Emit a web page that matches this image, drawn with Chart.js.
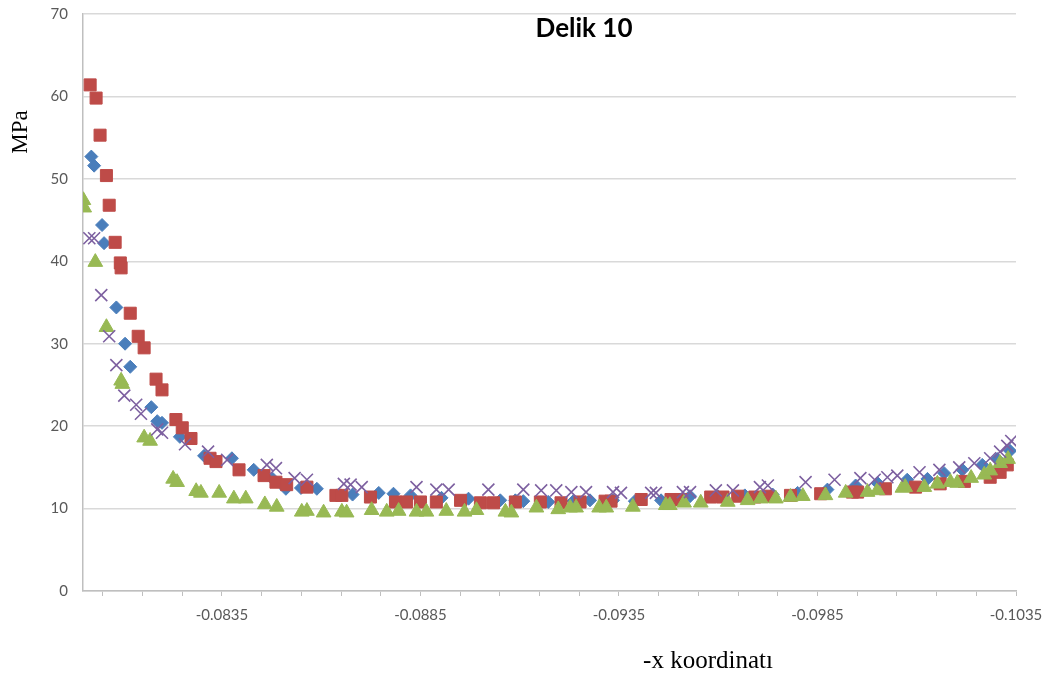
<!DOCTYPE html>
<html>
<head>
<meta charset="utf-8">
<script src="https://cdn.jsdelivr.net/npm/chart.js@4.4.1/dist/chart.umd.min.js"></script>
<style>
  html, body { margin: 0; padding: 0; background: #fff; }
  #chart { display: block; }
</style>
</head>
<body>
<canvas id="chart" width="1051" height="675"></canvas>
<script>
// x coordinate (m) and stress (MPa) per series
const blueX = [-0.08021, -0.08028, -0.08048, -0.08053, -0.08084, -0.08106, -0.08119, -0.08172, -0.08187, -0.08199,
  -0.08244, -0.08305, -0.08375, -0.0843, -0.08478, -0.08511, -0.08549, -0.08589, -0.08679, -0.08745,
  -0.08782, -0.08825, -0.08903, -0.08971, -0.09051, -0.09089, -0.09109, -0.09172, -0.09235, -0.09277,
  -0.09335, -0.0939, -0.09456, -0.09529, -0.09599, -0.09667, -0.09737, -0.098, -0.09875, -0.09946,
  -0.10001, -0.10076, -0.10127, -0.10169, -0.10215, -0.10265, -0.10303, -0.10335];
const blueY = [52.7, 51.6, 44.4, 42.2, 34.4, 30.0, 27.2, 22.3, 20.6, 20.4,
  18.7, 16.4, 16.1, 14.7, 13.6, 12.4, 12.5, 12.4, 11.7, 11.9,
  11.8, 11.6, 11.3, 11.2, 11.0, 11.0, 10.9, 10.8, 10.9, 11.0,
  11.0, 10.9, 11.0, 11.5, 11.5, 11.6, 11.7, 11.9, 12.3, 12.8,
  13.1, 13.5, 13.6, 14.3, 14.7, 15.3, 16.0, 17.0];

const redX = [-0.08018, -0.08033, -0.08043, -0.08059, -0.08066, -0.08081, -0.08094, -0.08096, -0.08119, -0.08139,
  -0.08154, -0.08184, -0.08199, -0.08234, -0.0825, -0.08272, -0.0832, -0.08335, -0.08393, -0.08456,
  -0.08486, -0.08513, -0.08564, -0.08637, -0.08652, -0.08724, -0.08787, -0.08815, -0.0885, -0.0889,
  -0.08951, -0.09001, -0.09034, -0.09089, -0.09152, -0.09204, -0.09252, -0.09315, -0.0933, -0.09406,
  -0.09481, -0.09506, -0.09581, -0.09612, -0.09649, -0.09692, -0.09725, -0.09782, -0.09858, -0.09938,
  -0.09951, -0.10021, -0.10097, -0.10159, -0.1022, -0.10285, -0.1031, -0.10328];
const redY = [61.4, 59.8, 55.3, 50.4, 46.8, 42.3, 39.8, 39.2, 33.7, 30.9,
  29.5, 25.7, 24.4, 20.8, 19.8, 18.5, 16.1, 15.7, 14.7, 14.0,
  13.2, 12.9, 12.6, 11.6, 11.6, 11.4, 10.8, 10.8, 10.8, 10.8,
  11.0, 10.7, 10.7, 10.8, 10.8, 10.7, 10.8, 10.9, 10.9, 11.1,
  11.1, 11.1, 11.4, 11.4, 11.5, 11.4, 11.5, 11.6, 11.8, 12.0,
  12.0, 12.4, 12.6, 13.0, 13.3, 13.8, 14.4, 15.3];

const greenX = [-0.08001, -0.08003, -0.08031, -0.08059, -0.08096, -0.08099, -0.08154, -0.08169, -0.08227, -0.08237,
  -0.08285, -0.08297, -0.08343, -0.0838, -0.0841, -0.08458, -0.08488, -0.08551, -0.08564, -0.08606,
  -0.08652, -0.08664, -0.08727, -0.08765, -0.08795, -0.0884, -0.08865, -0.08915, -0.08961, -0.08991,
  -0.09064, -0.09079, -0.09142, -0.09197, -0.09227, -0.09242, -0.093, -0.09318, -0.09385, -0.09468,
  -0.09478, -0.09514, -0.09556, -0.09624, -0.09674, -0.09707, -0.09745, -0.09782, -0.09813, -0.0987,
  -0.09921, -0.09976, -0.10001, -0.10064, -0.10071, -0.10119, -0.10152, -0.10185, -0.10202, -0.10237,
  -0.1027, -0.10285, -0.1031, -0.1033];
const greenY = [47.4, 46.5, 39.9, 32.0, 25.5, 25.1, 18.6, 18.2, 13.6, 13.2,
  12.1, 11.9, 11.9, 11.2, 11.2, 10.5, 10.2, 9.6, 9.7, 9.5,
  9.6, 9.5, 9.8, 9.6, 9.7, 9.6, 9.6, 9.7, 9.6, 9.8,
  9.6, 9.5, 10.1, 9.9, 10.1, 10.1, 10.1, 10.1, 10.2, 10.4,
  10.4, 10.7, 10.7, 10.8, 11.0, 11.2, 11.2, 11.4, 11.5, 11.6,
  11.9, 12.0, 12.2, 12.5, 12.6, 12.6, 13.0, 13.2, 13.1, 13.7,
  14.1, 14.6, 15.5, 16.0];

const purpleX = [-0.08016, -0.08028, -0.08046, -0.08066, -0.08084, -0.08104, -0.08134, -0.08146, -0.08187, -0.08199,
  -0.08257, -0.08315, -0.08363, -0.08463, -0.08486, -0.08533, -0.08564, -0.08657, -0.08674, -0.08702,
  -0.0884, -0.0889, -0.08921, -0.09021, -0.09109, -0.09154, -0.09192, -0.0923, -0.09267, -0.09335,
  -0.09355, -0.09431, -0.09443, -0.09511, -0.09529, -0.09594, -0.09637, -0.09705, -0.09725, -0.0982,
  -0.09893, -0.09958, -0.09994, -0.10026, -0.10051, -0.10107, -0.10157, -0.10207, -0.10245, -0.10285,
  -0.1031, -0.10328, -0.10338];
const purpleY = [42.8, 42.8, 35.9, 30.9, 27.4, 23.7, 22.6, 21.5, 19.6, 19.2,
  17.8, 16.9, 15.9, 15.3, 14.9, 13.7, 13.5, 13.0, 12.9, 12.6,
  12.6, 12.3, 12.3, 12.3, 12.3, 12.2, 12.2, 12.0, 12.0, 12.0,
  11.9, 11.9, 11.9, 12.0, 12.0, 12.2, 12.2, 12.6, 12.8, 13.2,
  13.5, 13.7, 13.5, 13.8, 14.0, 14.4, 14.7, 15.0, 15.5, 16.1,
  16.9, 17.6, 18.2];

const xMin = -0.1035;
const xMax = -0.0800;
const xMinorStep = 0.001;
const xTickLabels = ['-0.0835', '-0.0885', '-0.0935', '-0.0985', '-0.1035'];
const yMax = 70;
const yStep = 10;

function toPoints(xs, ys) {
  return xs.map((x, i) => ({ x: x, y: ys[i] }));
}

const tickFont = { family: 'Lato', size: 15 };
const tickColor = '#595959';

// title and axis captions, placed by hand like the spreadsheet layout
const captions = {
  id: 'captions',
  afterDraw(chart) {
    const ctx = chart.ctx;
    ctx.save();
    ctx.fillStyle = '#000';
    ctx.textAlign = 'center';
    ctx.textBaseline = 'alphabetic';
    ctx.font = 'bold 26px Lato';
    ctx.fillText('Delik 10', 584, 37);
    ctx.font = '25px "Liberation Serif"';
    ctx.fillText('-x koordinatı', 708, 668);
    ctx.font = '23px "Liberation Serif"';
    ctx.translate(27, 132);
    ctx.rotate(-Math.PI / 2);
    ctx.fillText('MPa', 0, 0);
    ctx.restore();
  }
};

new Chart(document.getElementById('chart').getContext('2d'), {
  type: 'scatter',
  data: {
    datasets: [
      {
        data: toPoints(blueX, blueY),
        pointStyle: 'rectRot',
        pointRadius: 6.5,
        backgroundColor: '#4a7ebb',
        borderColor: '#4a7ebb',
        borderWidth: 1,
        order: 4
      },
      {
        data: toPoints(redX, redY),
        pointStyle: 'rect',
        pointRadius: 8.5,
        backgroundColor: '#be4b48',
        borderColor: '#be4b48',
        borderWidth: 1,
        order: 3
      },
      {
        data: toPoints(greenX, greenY),
        pointStyle: 'triangle',
        pointRadius: 8.5,
        backgroundColor: '#98b954',
        borderColor: '#98b954',
        borderWidth: 1,
        order: 2
      },
      {
        data: toPoints(purpleX, purpleY),
        pointStyle: 'crossRot',
        pointRadius: 8.5,
        backgroundColor: '#7d60a0',
        borderColor: '#7d60a0',
        borderWidth: 1.6,
        order: 1
      }
    ]
  },
  options: {
    responsive: false,
    animation: false,
    layout: { autoPadding: false, padding: { top: 14, right: 35, left: 0, bottom: 0 } },
    plugins: {
      legend: { display: false },
      tooltip: { enabled: false }
    },
    scales: {
      x: {
        type: 'linear',
        reverse: true,
        min: xMin,
        max: xMax,
        afterBuildTicks(scale) {
          const ticks = [];
          for (let v = xMin; v <= xMax + 1e-9; v += xMinorStep) {
            ticks.push({ value: +v.toFixed(4) });
          }
          scale.ticks = ticks;
        },
        afterFit(scale) {
          scale.height = 84;
          scale.paddingLeft = 0;
          scale.paddingRight = 0;
        },
        grid: { drawOnChartArea: false, color: '#bfbfbf', tickLength: 5, lineWidth: 1 },
        border: { color: '#bfbfbf', width: 1.5 },
        ticks: {
          autoSkip: false,
          maxRotation: 0,
          padding: 10,
          color: tickColor,
          font: tickFont,
          callback(value) {
            const label = xTickLabels.find(t => Math.abs(parseFloat(t) - value) < 1e-7);
            return label || '';
          }
        }
      },
      y: {
        min: 0,
        max: yMax,
        afterFit(scale) {
          scale.width = 83;
          scale.paddingTop = 0;
          scale.paddingBottom = 0;
        },
        grid: { color: '#d9d9d9', lineWidth: 1.5, drawTicks: false },
        border: { color: '#bfbfbf', width: 1.5 },
        ticks: { stepSize: yStep, padding: 15, color: tickColor, font: tickFont }
      }
    }
  },
  plugins: [captions]
});
</script>
</body>
</html>
